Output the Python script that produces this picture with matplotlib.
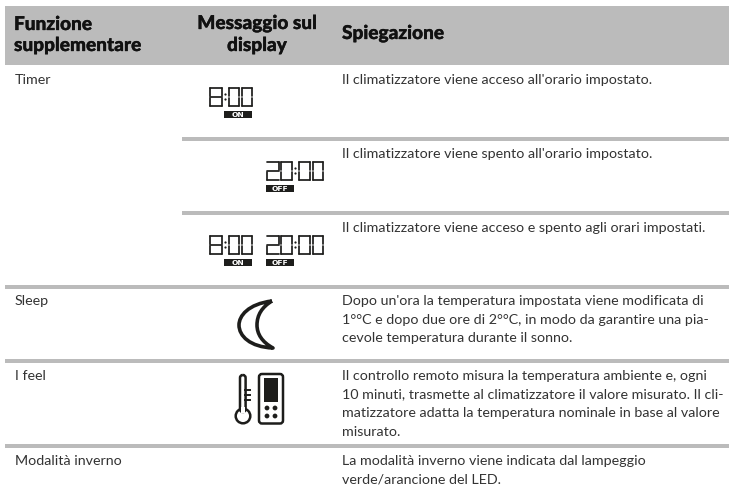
import matplotlib
matplotlib.use('Agg')
from matplotlib import pyplot as plt
from matplotlib import patheffects
from matplotlib.patches import Rectangle, Circle, FancyBboxPatch, PathPatch
from matplotlib.path import Path

plt.rcParams['font.family'] = ['Lato', 'DejaVu Sans']

head_col1 = ['Funzione', 'supplementare']
head_col2 = ['Messaggio sul', 'display']
head_col3 = 'Spiegazione'

names = ['Timer', 'Sleep', 'I feel', 'Modalità inverno']
expl = [
    ["Il climatizzatore viene acceso all'orario impostato."],
    ["Il climatizzatore viene spento all'orario impostato."],
    ["Il climatizzatore viene acceso e spento agli orari impostati."],
    ["Dopo un'ora la temperatura impostata viene modificata di",
     "1°°C e dopo due ore di 2°°C, in modo da garantire una pia-",
     "cevole temperatura durante il sonno."],
    ["Il controllo remoto misura la temperatura ambiente e, ogni",
     "10 minuti, trasmette al climatizzatore il valore misurato. Il cli-",
     "matizzatore adatta la temperatura nominale in base al valore",
     "misurato."],
    ["La modalità inverno viene indicata dal lampeggio",
     "verde/arancione del LED."],
]

GREY = '#bbbbbb'
INK = '#1d1d1b'
TXT = '#333333'

# which segments each digit lights up: top, top-left, top-right, mid, bot-left, bot-right, bottom
SEGS = {'0': 'abcefg', '2': 'acdeg', '8': 'abcdefg'}


def digit(ax, x0, x1, y0, y1, ch):
    ym = (y0 + y1) / 2
    parts = {
        'a': ((x0, y0), (x1, y0)), 'b': ((x0, y0), (x0, ym - 1)), 'c': ((x1, y0), (x1, ym - 1)),
        'd': ((x0, ym), (x1, ym)), 'e': ((x0, ym + 1), (x0, y1)), 'f': ((x1, ym + 1), (x1, y1)),
        'g': ((x0, y1), (x1, y1)),
    }
    for s in SEGS[ch]:
        p, q = parts[s]
        ax.plot([p[0], q[0]], [p[1], q[1]], color=INK, lw=1.25, solid_capstyle='round')


def clock(ax, xs, colon, y0, y1, chars):
    for (a, b), ch in zip(xs, chars):
        digit(ax, a, b, y0, y1, ch)
    ym = (y0 + y1) / 2
    ax.plot([colon, colon], [ym - 3, ym + 2], ls='none', marker='o', ms=1.6, mew=0, color=INK)


def tag(ax, x0, x1, y0, label):
    ax.add_patch(Rectangle((x0, y0), x1 - x0, 7, fc=INK, ec='none'))
    ax.text((x0 + x1) / 2, y0 + 3.6, label, color='w', fontsize=5.4, fontweight='bold',
            family='DejaVu Sans', ha='center', va='center')


def show_on(ax, y0):
    clock(ax, [(210, 222), (229, 239), (242, 252)], 225.5, y0, y0 + 18, '800')
    tag(ax, 224, 252, y0 + 23, 'ON')


def show_off(ax, y0):
    clock(ax, [(267.5, 279), (281.5, 292.5), (299.5, 310), (313, 323)], 295.5, y0, y0 + 18, '2000')
    tag(ax, 266, 294, y0 + 23, 'OFF')


fig = plt.figure(figsize=(7.29, 4.91), dpi=100, facecolor='w')
ax = fig.add_axes([0, 0, 1, 1])
ax.set_xlim(0, 729)
ax.set_ylim(491, 0)
ax.axis('off')

# header band and row rules
ax.add_patch(Rectangle((5, 6), 724, 59, fc=GREY, ec='none'))
ax.add_patch(Rectangle((182, 137), 547, 3.6, fc=GREY, ec='none'))
ax.add_patch(Rectangle((182, 211), 547, 3.6, fc=GREY, ec='none'))
for y in [285, 359, 444]:
    ax.add_patch(Rectangle((5, y), 724, 3.6, fc=GREY, ec='none'))

# bold from the font alone is a bit light next to the reference
thick = [patheffects.withStroke(linewidth=0.25, foreground='#111111')]
hkw = dict(fontsize=13.7, fontweight='black', color='#111111', va='baseline', path_effects=thick)
ax.text(14, 30, head_col1[0], **hkw)
ax.text(14, 51, head_col1[1], **hkw)
ax.text(257, 29, head_col2[0], ha='center', **hkw)
ax.text(257, 51, head_col2[1], ha='center', **hkw)
ax.text(342, 39, head_col3, **hkw)

bkw = dict(fontsize=10.25, color=TXT, va='baseline')
for name, y in zip(names, [84, 305, 380, 465]):
    ax.text(15, y, name, **bkw)
starts = [84, 158, 232, 305, 380, 465]
for lines, y in zip(expl, starts):
    for i, line in enumerate(lines):
        ax.text(342, y + i * 18.5, line, **bkw)

# display messages
show_on(ax, 88)
show_off(ax, 162)
show_on(ax, 236)
show_off(ax, 236)

# moon
moon = Path([(272, 301), (248, 304), (239, 316), (239, 325), (239, 336), (250, 347), (273, 348),
             (262, 342), (257, 334), (257, 325), (257, 315), (262, 307), (272, 301)],
            [Path.MOVETO] + [Path.CURVE4] * 12)
ax.add_patch(PathPatch(moon, fc='none', ec=INK, lw=2.6, joinstyle='round'))

# thermometer
ax.add_patch(Circle((243, 416), 7.3, fc='w', ec=INK, lw=1.8, zorder=3))
ax.add_patch(FancyBboxPatch((240, 375), 5.6, 37, boxstyle='round,pad=0,rounding_size=2.8',
                            fc='w', ec=INK, lw=1.8, zorder=4))
ax.add_patch(Rectangle((241, 407), 3.6, 6, fc='w', ec='none', zorder=5))
for y in [390, 395, 400]:
    ax.plot([245, 250], [y, y], color=INK, lw=1.4, zorder=5)

# remote
ax.add_patch(FancyBboxPatch((259, 374), 24, 49.5, boxstyle='round,pad=0,rounding_size=3',
                            fc='w', ec=INK, lw=1.8))
ax.add_patch(Rectangle((264, 378), 14, 24, fc=INK, ec='none'))
for x in [267, 275]:
    for y in [408, 416]:
        ax.add_patch(Circle((x, y), 2.4, fc=INK, ec='none'))

fig.savefig('out.png', dpi=100)
